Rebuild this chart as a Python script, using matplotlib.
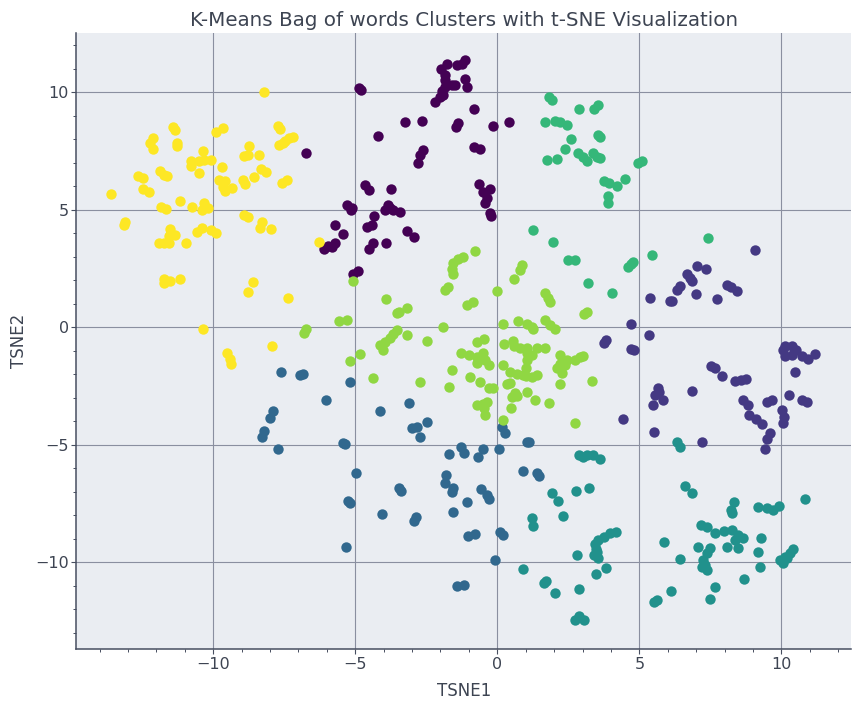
import matplotlib
matplotlib.use("Agg")
import matplotlib.pyplot as plt
import numpy as np
from matplotlib.ticker import MultipleLocator

# t-SNE coordinates per K-Means cluster
cluster0 = [
    (-6.75, 7.4), (-4.86, 10.18), (-4.81, 10.11), (-1.14, 11.36), (-1.25, 11.22),
    (-1.41, 11.17), (-1.78, 11.22), (-1.98, 10.99), (-1.84, 10.75), (-1.84, 10.53),
    (-1.61, 10.32), (-1.49, 10.32), (-1.84, 10.25), (-1.96, 10.04), (-1.9, 9.9),
    (-2.19, 9.57), (-2.02, 9.82), (-1.14, 10.56), (-1.05, 10.22), (-0.82, 9.29),
    (-0.16, 8.58), (0.4, 8.75), (-3.26, 8.76), (-2.66, 8.77), (-4.21, 8.14),
    (-1.37, 8.69), (-1.45, 8.52), (-0.82, 7.67), (-0.61, 7.61), (-2.63, 7.56),
    (-2.72, 7.34), (-2.79, 6.99), (-4.66, 6.07), (-4.51, 5.85), (-3.75, 5.88),
    (-0.63, 6.09), (-0.26, 5.88), (-0.49, 5.74), (-0.37, 5.5), (-0.43, 5.31),
    (-0.26, 4.86), (-0.22, 4.72), (-5.3, 5.22), (-5.13, 5.07), (-5.16, 5.0),
    (-3.84, 5.22), (-3.95, 5.0), (-3.66, 5.0), (-3.43, 4.9), (-3.78, 5.07),
    (-4.33, 4.72), (-4.6, 4.29), (-4.42, 4.36), (-5.71, 4.36), (-5.42, 3.97),
    (-5.71, 3.61), (-5.83, 3.44), (-6.09, 3.33), (-5.95, 3.45), (-3.17, 4.08),
    (-2.93, 3.84), (-3.92, 3.61), (-4.39, 3.58), (-4.5, 3.33), (-5.07, 2.29),
    (-4.89, 2.4),
]
cluster1 = [
    (9.07, 3.28), (7.04, 2.62), (7.36, 2.49), (6.66, 2.29), (6.78, 2.12),
    (6.84, 1.98), (6.43, 1.77), (6.31, 1.58), (5.37, 1.27), (6.07, 1.13),
    (6.16, 1.11), (6.99, 1.44), (7.72, 1.21), (8.07, 1.79), (8.24, 1.7),
    (8.42, 1.55), (4.72, 0.14), (5.35, -0.32), (3.81, -0.55), (3.76, -0.66),
    (4.7, -0.94), (4.82, -0.97), (10.12, -0.8), (10.36, -0.8), (10.53, -0.97),
    (10.12, -1.23), (10.36, -1.18), (10.71, -1.23), (10.94, -1.33), (11.18, -1.14),
    (10.06, -0.97), (10.47, -1.91), (7.52, -1.65), (7.66, -1.75), (7.92, -2.08),
    (8.36, -2.28), (8.57, -2.22), (8.74, -2.18), (5.64, -2.6), (5.54, -2.89),
    (5.84, -3.07), (5.49, -3.31), (5.69, -2.74), (6.87, -2.72), (8.66, -3.07),
    (8.83, -3.31), (8.85, -3.71), (9.12, -3.92), (9.3, -4.12), (9.48, -3.17),
    (9.68, -3.1), (10.26, -2.89), (10.71, -3.07), (10.91, -3.17), (10.03, -3.52),
    (10.1, -3.81), (10.07, -4.06), (9.59, -4.49), (9.48, -4.73), (9.42, -5.16),
    (4.43, -3.92), (5.5, -4.47), (7.19, -4.89),
]
cluster2 = [
    (-7.62, -1.89), (-6.94, -2.02), (-6.85, -1.99), (-6.03, -3.11), (-7.91, -3.55),
    (-7.99, -3.85), (-8.2, -4.39), (-8.29, -4.66), (-7.73, -5.16), (-5.44, -4.94),
    (-5.36, -4.96), (-5.19, -2.32), (-4.13, -3.55), (-3.1, -3.2), (-2.46, -4.01),
    (-3.01, -4.3), (-2.81, -4.26), (-2.72, -4.66), (-4.98, -6.21), (-3.45, -6.85),
    (-3.4, -6.95), (-5.24, -7.37), (-5.19, -7.49), (-4.06, -7.94), (-2.86, -8.08),
    (-2.93, -8.24), (-5.31, -9.34), (0.16, -4.22), (0.27, -4.51), (1.04, -4.86),
    (1.13, -4.87), (-1.7, -5.4), (-1.29, -5.1), (-1.17, -5.36), (-0.67, -5.5),
    (-0.51, -5.19), (0.06, -5.19), (-1.8, -6.28), (-1.84, -6.64), (-1.57, -6.85),
    (-1.58, -6.99), (-1.08, -7.44), (-1.57, -7.84), (-0.57, -6.89), (-0.37, -7.13),
    (-0.28, -7.32), (0.92, -6.1), (1.41, -6.18), (1.48, -6.32), (-1.04, -8.88),
    (-0.78, -8.81), (0.1, -8.69), (0.21, -8.83), (-0.08, -9.9), (-1.43, -10.99),
    (-1.19, -10.95),
]
cluster3 = [
    (6.31, -4.87), (6.43, -5.08), (6.61, -6.75), (6.84, -7.03), (8.33, -7.44),
    (8.21, -7.77), (8.25, -7.91), (9.19, -7.63), (9.48, -7.7), (9.69, -7.77),
    (9.9, -7.6), (10.83, -7.3), (7.16, -8.41), (7.37, -8.51), (7.66, -8.73),
    (7.98, -8.66), (8.25, -8.62), (8.48, -8.83), (8.66, -8.98), (8.07, -9.33),
    (8.48, -9.4), (8.37, -9.05), (9.28, -8.95), (9.17, -9.57), (5.87, -9.12),
    (7.05, -9.33), (7.49, -9.4), (7.37, -9.61), (7.25, -9.9), (7.19, -10.18),
    (7.37, -10.32), (7.31, -10.11), (6.43, -9.87), (9.25, -10.18), (9.95, -9.9),
    (10.13, -9.76), (10.3, -9.61), (10.42, -9.44), (10.07, -10.04), (10.19, -9.83),
    (8.7, -10.72), (7.66, -11.07), (7.49, -11.57), (6.1, -11.24), (5.63, -11.6),
    (5.52, -11.7), (2.89, -5.43), (3.15, -5.43), (3.38, -5.43), (3.62, -5.61),
    (3.03, -5.5), (1.92, -7.03), (2.15, -7.39), (2.3, -8.01), (2.77, -6.95),
    (3.21, -6.82), (1.21, -8.12), (1.25, -8.45), (4.18, -8.69), (3.97, -8.76),
    (3.74, -8.9), (3.56, -9.05), (3.44, -9.22), (3.48, -9.44), (3.41, -9.68),
    (3.56, -9.83), (3.5, -9.54), (3.82, -10.25), (3.47, -10.51), (2.8, -9.68),
    (0.92, -10.29), (1.66, -10.86), (1.72, -10.78), (2.03, -11.32), (2.88, -11.13),
    (2.74, -12.45), (2.89, -12.28), (3.05, -12.45),
]
cluster4 = [
    (1.83, 9.82), (1.92, 9.68), (2.87, 9.3), (3.41, 9.3), (3.55, 9.48),
    (1.68, 8.76), (2.03, 8.8), (2.21, 8.72), (2.44, 8.62), (3.56, 8.19),
    (3.61, 8.12), (2.61, 8.01), (2.38, 7.58), (1.74, 7.13), (2.09, 7.17),
    (2.85, 7.44), (3.03, 7.27), (3.15, 7.06), (3.38, 7.41), (3.5, 7.27),
    (3.61, 7.2), (4.96, 6.99), (5.08, 7.09), (3.76, 6.25), (3.93, 6.14),
    (4.2, 6.02), (4.49, 6.31), (3.9, 5.61), (3.9, 5.31), (7.42, 3.8),
    (5.43, 3.1), (4.78, 2.79), (4.61, 2.58), (4.7, 2.69), (3.2, 1.89),
    (4.02, 1.47), (1.27, 4.15), (1.95, 3.65), (2.5, 2.86), (2.74, 2.86),
]
cluster5 = [
    (-6.73, -0.05), (-6.79, -0.26), (-5.57, 0.26), (-5.28, 0.31), (-5.07, 1.97),
    (-0.78, 3.26), (-1.2, 3.0), (-1.37, 2.93), (-1.55, 2.72), (-1.61, 2.5),
    (-1.57, 2.29), (-1.72, 1.72), (-1.84, 1.61), (0.86, 2.65), (0.8, 2.43),
    (0.59, 2.05), (0.0, 1.55), (-3.92, 1.2), (-3.17, 0.84), (-3.54, 0.62),
    (-3.45, 0.66), (-1.08, 0.94), (-0.84, 1.09), (1.68, 1.47), (1.86, 1.09),
    (1.8, 1.27), (3.15, 0.66), (3.05, 0.56), (-1.9, 0.02), (0.21, 0.14),
    (0.74, 0.28), (1.03, 0.14), (1.21, 0.0), (1.27, -0.09), (1.68, 0.31),
    (1.86, 0.09), (2.03, -0.05), (-3.54, -0.12), (-3.66, -0.29), (-3.78, -0.47),
    (-3.95, -0.62), (-4.13, -0.76), (-4.01, -0.97), (-3.19, -0.33), (-2.46, -0.57),
    (-4.83, -1.14), (-5.19, -1.42), (-0.73, -0.64), (-0.47, -0.49), (-1.29, -1.11),
    (-0.98, -1.18), (-0.73, -1.25), (-0.49, -1.11), (-0.43, -1.4), (-0.73, -1.51),
    (-0.28, -1.61), (-0.63, -1.33), (-1.58, -1.82), (-0.96, -2.13), (-0.61, -2.32),
    (-1.69, -2.53), (-0.31, -2.6), (-0.16, -2.6), (-4.39, -2.16), (-2.72, -2.32),
    (-0.73, -3.31), (-0.49, -3.24), (-0.37, -3.17), (-0.43, -3.74), (-0.47, -3.45),
    (0.21, -1.61), (0.21, -3.95), (0.24, -0.72), (0.54, -0.57), (0.57, -0.8),
    (0.8, -0.86), (1.03, -0.86), (1.39, -0.86), (1.68, -0.86), (1.06, -1.11),
    (1.21, -1.18), (1.03, -1.4), (0.45, -1.89), (0.68, -1.99), (1.01, -1.75),
    (1.01, -2.08), (1.21, -2.13), (1.41, -2.03), (0.92, -2.03), (0.33, -2.42),
    (0.45, -2.36), (0.62, -2.81), (0.51, -2.96), (0.68, -2.93), (1.06, -2.76),
    (1.33, -3.07), (0.48, -3.42), (1.83, -3.2), (2.21, -1.18), (2.21, -1.54),
    (2.44, -1.4), (2.09, -1.75), (2.27, -1.96), (2.38, -1.61), (2.74, -1.4),
    (2.91, -1.25), (3.03, -1.23), (2.19, -2.42), (3.35, -2.29), (2.75, -4.08),
]
cluster6 = [
    (-8.2, 10.0), (-7.73, 8.58), (-7.65, 8.45), (-11.4, 8.52), (-11.35, 8.41),
    (-9.89, 8.32), (-9.65, 8.48), (-12.11, 8.07), (-12.22, 7.84), (-12.11, 7.61),
    (-11.27, 7.84), (-11.27, 7.7), (-7.68, 7.75), (-7.49, 7.91), (-7.32, 8.05),
    (-7.2, 8.12), (-7.55, 7.84), (-8.73, 7.7), (-8.9, 7.3), (-8.79, 7.34),
    (-8.4, 7.33), (-10.37, 7.5), (-10.8, 7.06), (-10.8, 6.87), (-10.49, 7.06),
    (-10.31, 7.13), (-10.08, 7.13), (-10.49, 6.59), (-9.7, 6.83), (-11.88, 6.66),
    (-11.75, 6.49), (-11.64, 6.45), (-12.65, 6.45), (-12.48, 6.35), (-13.6, 5.68),
    (-12.46, 5.88), (-12.27, 5.75), (-11.17, 5.36), (-11.83, 5.14), (-11.66, 5.04),
    (-10.75, 5.14), (-10.39, 5.0), (-10.33, 5.29), (-10.19, 5.07), (-9.81, 6.28),
    (-9.57, 6.21), (-9.67, 5.97), (-9.57, 5.8), (-9.34, 5.94), (-8.96, 6.28),
    (-8.87, 6.11), (-8.55, 6.38), (-8.32, 6.73), (-8.14, 6.63), (-7.59, 6.14),
    (-7.41, 6.27), (-8.9, 4.79), (-8.79, 4.69), (-8.3, 4.48), (-8.34, 4.22),
    (-7.95, 4.19), (-13.09, 4.48), (-13.14, 4.35), (-11.52, 4.19), (-11.52, 3.94),
    (-11.33, 3.94), (-11.54, 3.87), (-11.9, 3.58), (-11.72, 3.58), (-11.57, 3.58),
    (-10.96, 3.58), (-10.57, 4.05), (-10.39, 4.22), (-10.08, 4.15), (-9.9, 4.01),
    (-6.29, 3.63), (-11.74, 2.05), (-11.74, 1.89), (-11.51, 1.96), (-11.17, 2.04),
    (-8.61, 1.94), (-8.79, 1.51), (-7.37, 1.24), (-10.37, -0.08), (-7.93, -0.79),
    (-9.52, -1.11), (-9.41, -1.33), (-9.36, -1.57),
]
clusters = [cluster0, cluster1, cluster2, cluster3, cluster4, cluster5, cluster6]

TEXT = "#3d4452"
SPINE = "#474e60"

fig = plt.figure(figsize=(8.61, 7.08), dpi=100)
ax = fig.add_axes([76.3 / 861, (708 - 649.3) / 708, 774.7 / 861, 616.6 / 708])
ax.set_facecolor("#eaedf2")

colors = plt.cm.viridis(np.linspace(0, 1, len(clusters)))
for pts, color in zip(clusters, colors):
    xy = np.array(pts)
    ax.scatter(xy[:, 0], xy[:, 1], s=56, color=color, linewidths=0, zorder=3)

ax.set_xlim(-14.82, 12.45)
ax.set_ylim(-13.70, 12.54)
ax.xaxis.set_major_locator(MultipleLocator(5))
ax.yaxis.set_major_locator(MultipleLocator(5))
ax.xaxis.set_minor_locator(MultipleLocator(1))
ax.yaxis.set_minor_locator(MultipleLocator(1))
ax.grid(True, which="major", color="#8a8fa0", linewidth=0.8, zorder=0)
ax.set_axisbelow(True)

for side in ("top", "right"):
    ax.spines[side].set_visible(False)
for side in ("left", "bottom"):
    ax.spines[side].set_color(SPINE)
    ax.spines[side].set_linewidth(1.1)
ax.tick_params(which="major", length=3.5, width=0.8, color=SPINE,
               labelsize=11.5, labelcolor=TEXT, pad=2)
ax.tick_params(which="minor", length=2.2, width=0.7, color=SPINE)

ax.set_title("K-Means Bag of words Clusters with t-SNE Visualization",
             fontsize=14.3, color=TEXT, pad=5)
ax.set_xlabel("TSNE1", fontsize=12, color=TEXT, labelpad=7)
ax.set_ylabel("TSNE2", fontsize=12, color=TEXT, labelpad=5)

fig.savefig("out.png", dpi=100)
